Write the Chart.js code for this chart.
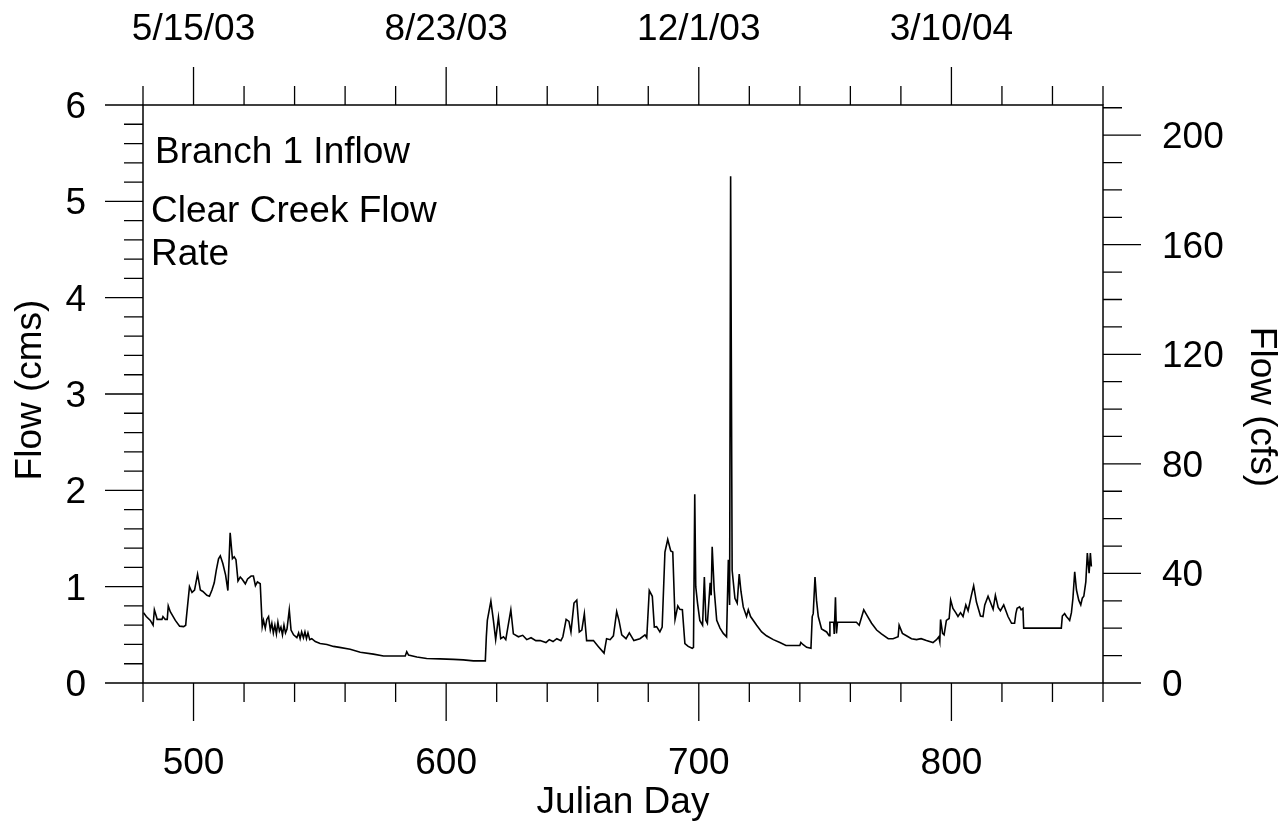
<!DOCTYPE html>
<html>
<head>
<meta charset="utf-8">
<script src="https://cdn.jsdelivr.net/npm/chart.js@4.4.0/dist/chart.umd.min.js"></script>
<style>
  html, body { margin: 0; padding: 0; background: #fff; }
  #wrap { width: 1286px; height: 822px; }
</style>
</head>
<body>
<div id="wrap"><canvas id="flowChart" width="1286" height="822"></canvas></div>
<script>
// Julian day (day 1 = 1/1/02) and Clear Creek flow in cms
const julianDays = [
  480.2, 481.3, 482.9, 484.0, 484.5, 485.3, 485.6, 487.5, 487.9, 488.8, 489.6, 490.0, 490.8, 492.8, 494.5, 496.1, 496.9, 497.1, 498.4, 499.4,
  500.4, 501.6, 502.7, 503.7, 505.3, 506.3, 507.3, 508.2, 509.0, 509.9, 510.6, 511.6, 512.7, 513.6, 514.5, 515.4, 516.1, 516.8, 517.6, 518.5,
  519.2, 520.5, 521.4, 522.8, 523.7, 524.5, 525.3, 526.4, 527.2, 527.7, 528.4, 529.0, 529.7, 530.4, 531.0, 531.6, 532.2, 532.8, 533.4, 534.0,
  534.6, 535.2, 535.8, 536.4, 537.0, 537.9, 538.6, 539.6, 540.9, 541.6, 542.2, 542.8, 543.5, 544.1, 544.7, 545.3, 546.0, 546.8, 548.2, 550.1,
  552.8, 555.4, 557.8, 562.0, 566.0, 571.2, 575.2, 580.5, 583.8, 584.4, 585.1, 588.4, 592.3, 597.6, 602.9, 606.8, 610.8, 615.5, 615.9, 616.3,
  617.7, 618.7, 619.6, 620.7, 621.6, 622.7, 623.6, 625.6, 626.6, 628.6, 630.3, 631.9, 633.6, 635.5, 637.2, 639.5, 640.8, 642.3, 643.8, 645.4,
  646.2, 647.5, 648.6, 649.4, 650.6, 651.7, 652.7, 653.7, 654.7, 655.6, 658.3, 660.2, 662.5, 663.5, 664.9, 666.2, 667.5, 668.4, 669.5, 671.2,
  672.5, 674.3, 676.7, 678.7, 679.4, 680.4, 681.6, 682.4, 683.3, 684.6, 685.5, 686.6, 687.7, 688.9, 689.7, 690.6, 691.7, 692.5, 693.5, 694.5,
  695.8, 697.4, 697.9, 698.4, 698.8, 699.5, 700.4, 701.5, 702.2, 702.8, 703.4, 704.5, 704.9, 705.3, 706.1, 707.1, 708.4, 709.7, 711.0, 711.7,
  712.2, 712.6, 713.2, 714.3, 715.2, 716.0, 716.7, 717.6, 718.9, 719.6, 720.5, 722.9, 724.9, 726.8, 729.5, 732.1, 734.5, 737.4, 740.0, 740.4,
  741.2, 742.7, 744.4, 744.9, 745.3, 746.0, 746.6, 747.3, 748.6, 750.6, 751.6, 751.9, 753.4, 753.6, 754.1, 754.5, 754.9, 762.4, 763.5, 765.3,
  766.4, 768.4, 770.4, 772.3, 775.0, 776.9, 778.9, 779.3, 779.6, 780.6, 782.2, 784.2, 786.2, 788.0, 790.1, 792.7, 794.1, 795.0, 795.4, 795.7,
  796.5, 797.1, 798.0, 799.1, 799.7, 800.6, 801.7, 802.6, 803.6, 804.6, 805.7, 806.6, 807.9, 808.8, 809.9, 811.5, 812.5, 813.2, 814.5, 815.4,
  816.5, 817.4, 818.5, 819.4, 820.7, 822.4, 823.8, 825.0, 825.5, 826.0, 827.0, 827.6, 828.3, 828.6, 843.5, 843.9, 844.8, 845.5, 846.2, 846.8,
  847.5, 848.1, 848.8, 849.5, 850.4, 851.2, 851.8, 852.4, 853.2, 853.8, 854.5, 855.0, 855.4
];
const flowCms = [
  0.73, 0.69, 0.65, 0.60, 0.76, 0.69, 0.66, 0.66, 0.69, 0.66, 0.66, 0.80, 0.74, 0.65, 0.59, 0.585, 0.60, 0.66, 1.00, 0.94,
  0.965, 1.13, 0.965, 0.95, 0.91, 0.90, 0.965, 1.04, 1.17, 1.29, 1.32, 1.24, 1.12, 0.96, 1.56, 1.29, 1.31, 1.28, 1.06, 1.10,
  1.08, 1.03, 1.08, 1.11, 1.11, 1.01, 1.05, 1.03, 0.585, 0.65, 0.57, 0.66, 0.69, 0.55, 0.62, 0.52, 0.60, 0.51, 0.63, 0.54,
  0.58, 0.50, 0.60, 0.52, 0.56, 0.76, 0.55, 0.50, 0.47, 0.52, 0.46, 0.53, 0.47, 0.53, 0.46, 0.52, 0.45, 0.46, 0.43, 0.41,
  0.40, 0.38, 0.37, 0.35, 0.32, 0.30, 0.28, 0.28, 0.28, 0.325, 0.29, 0.27, 0.255, 0.25, 0.245, 0.24, 0.23, 0.23, 0.48, 0.65,
  0.85, 0.65, 0.45, 0.68, 0.46, 0.48, 0.45, 0.76, 0.51, 0.48, 0.495, 0.45, 0.47, 0.44, 0.44, 0.42, 0.45, 0.43, 0.46, 0.44,
  0.48, 0.66, 0.64, 0.53, 0.83, 0.86, 0.53, 0.55, 0.72, 0.44, 0.44, 0.38, 0.31, 0.46, 0.45, 0.49, 0.74, 0.65, 0.50, 0.46,
  0.52, 0.44, 0.46, 0.50, 0.47, 0.96, 0.90, 0.58, 0.585, 0.53, 0.58, 1.36, 1.49, 1.37, 1.36, 0.66, 0.80, 0.765, 0.76, 0.41,
  0.38, 0.36, 0.37, 1.96, 1.00, 0.83, 0.65, 0.60, 1.10, 0.65, 0.62, 1.04, 0.91, 1.415, 0.965, 0.65, 0.57, 0.515, 0.48, 1.28,
  0.81, 5.26, 1.17, 0.88, 0.83, 1.13, 0.95, 0.79, 0.69, 0.76, 0.69, 0.60, 0.53, 0.49, 0.45, 0.42, 0.39, 0.39, 0.39, 0.42,
  0.40, 0.37, 0.36, 0.69, 0.72, 1.10, 0.86, 0.69, 0.56, 0.53, 0.49, 0.63, 0.63, 0.51, 0.89, 0.515, 0.63, 0.63, 0.60, 0.76,
  0.71, 0.62, 0.55, 0.51, 0.46, 0.46, 0.48, 0.60, 0.60, 0.515, 0.49, 0.46, 0.45, 0.46, 0.44, 0.42, 0.45, 0.48, 0.43, 0.66,
  0.515, 0.50, 0.65, 0.67, 0.86, 0.775, 0.73, 0.69, 0.73, 0.69, 0.81, 0.75, 0.91, 1.01, 0.84, 0.695, 0.69, 0.81, 0.90, 0.84,
  0.765, 0.91, 0.785, 0.75, 0.81, 0.69, 0.62, 0.62, 0.72, 0.775, 0.79, 0.76, 0.775, 0.57, 0.57, 0.695, 0.72, 0.69, 0.67, 0.65,
  0.73, 0.88, 1.155, 0.965, 0.86, 0.81, 0.88, 0.90, 1.05, 1.35, 1.14, 1.35, 1.21
];

const dayTicks = [500, 600, 700, 800];
const dayLabels = ['500', '600', '700', '800'];
const dateLabels = ['5/15/03', '8/23/03', '12/1/03', '3/10/04'];
const cmsTicks = [0, 1, 2, 3, 4, 5, 6];
const cfsTicks = [0, 40, 80, 120, 160, 200];
const noteLines = ['Branch 1 Inflow', 'Clear Creek Flow', 'Rate'];

const FONT = '37px "Liberation Sans", Arial, sans-serif';
const MAJOR = 38;
const MINOR = 19;

// frame, outward tick marks and all text
const framePlugin = {
  id: 'framePlugin',
  afterDraw(chart) {
    const ctx = chart.ctx;
    const a = chart.chartArea;
    const sx = chart.scales.x;
    const sxTop = chart.scales.xTop;
    const sy = chart.scales.y;
    const syRight = chart.scales.yRight;

    ctx.save();
    ctx.strokeStyle = '#000';
    ctx.lineWidth = 1.5;
    ctx.strokeRect(a.left, a.top, a.right - a.left, a.bottom - a.top);

    ctx.lineWidth = 1.3;
    ctx.beginPath();
    for (let d = 480; d <= 860; d += 20) {
      const len = dayTicks.includes(d) ? MAJOR : MINOR;
      const pb = sx.getPixelForValue(d);
      ctx.moveTo(pb, a.bottom);
      ctx.lineTo(pb, a.bottom + len);
      const pt = sxTop.getPixelForValue(d);
      ctx.moveTo(pt, a.top);
      ctx.lineTo(pt, a.top - len);
    }
    for (let i = 0; i <= 30; i++) {
      const py = sy.getPixelForValue(i / 5);
      ctx.moveTo(a.left, py);
      ctx.lineTo(a.left - (i % 5 === 0 ? MAJOR : MINOR), py);
    }
    for (let c = 0; c <= 210; c += 10) {
      const py = syRight.getPixelForValue(c);
      ctx.moveTo(a.right, py);
      ctx.lineTo(a.right + (c % 40 === 0 ? MAJOR : MINOR), py);
    }
    ctx.stroke();

    ctx.fillStyle = '#000';
    ctx.font = FONT;
    ctx.textBaseline = 'alphabetic';

    ctx.textAlign = 'center';
    dayTicks.forEach((d, i) => {
      ctx.fillText(dayLabels[i], sx.getPixelForValue(d), 774);
      ctx.fillText(dateLabels[i], sxTop.getPixelForValue(d), 40);
    });
    ctx.fillText('Julian Day', (a.left + a.right) / 2, 813);

    ctx.textAlign = 'right';
    cmsTicks.forEach(v => {
      ctx.fillText(String(v), 86, sy.getPixelForValue(v) + 13);
    });

    ctx.textAlign = 'left';
    cfsTicks.forEach(v => {
      ctx.fillText(String(v), 1162, syRight.getPixelForValue(v) + 13);
    });

    ctx.fillText(noteLines[0], 155, 163);
    ctx.fillText(noteLines[1], 151, 222);
    ctx.fillText(noteLines[2], 151, 265);

    ctx.textAlign = 'center';
    ctx.save();
    ctx.translate(41, 390);
    ctx.rotate(-Math.PI / 2);
    ctx.fillText('Flow (cms)', 0, 0);
    ctx.restore();

    ctx.save();
    ctx.translate(1251, 407);
    ctx.rotate(Math.PI / 2);
    ctx.fillText('Flow (cfs)', 0, 0);
    ctx.restore();

    ctx.restore();
  }
};

const ctx = document.getElementById('flowChart').getContext('2d');
new Chart(ctx, {
  type: 'line',
  data: {
    datasets: [{
      data: julianDays.map((d, i) => ({ x: d, y: flowCms[i] })),
      borderColor: '#000',
      borderWidth: 1.6,
      pointRadius: 0,
      tension: 0,
      fill: false
    }]
  },
  options: {
    responsive: false,
    devicePixelRatio: 1,
    animation: false,
    events: [],
    layout: { padding: { left: 143, right: 183, top: 105, bottom: 139 } },
    plugins: { legend: { display: false }, tooltip: { enabled: false } },
    scales: {
      x: { type: 'linear', min: 480, max: 860, display: false },
      xTop: { type: 'linear', position: 'top', min: 480, max: 860, display: false },
      y: { type: 'linear', min: 0, max: 6, display: false },
      yRight: { type: 'linear', position: 'right', min: 0, max: 211, display: false }
    }
  },
  plugins: [framePlugin]
});
</script>
</body>
</html>
